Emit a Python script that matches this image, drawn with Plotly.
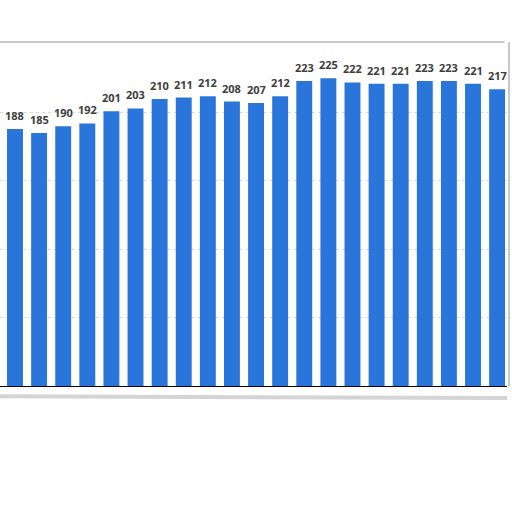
import plotly.graph_objects as go

# values, left to right
positions = list(range(21))
values = [188, 185, 190, 192, 201, 203, 210, 211, 212, 208, 207,
          212, 223, 225, 222, 221, 221, 223, 223, 221, 217]
grid_ticks = [0, 50, 100, 150, 200]

fig = go.Figure(go.Bar(
    x=positions,
    y=values,
    width=0.66,
    marker_color='#2a75d9',
    marker_line_width=0,
    hoverinfo='skip',
))

# value labels sit a bit higher above the bars than plotly's own outside text
for p, v in zip(positions, values):
    fig.add_annotation(x=p, y=v, text=str(v), showarrow=False,
                       yanchor='bottom', yshift=4,
                       font=dict(family='Open Sans', size=11, color='#3d3d3d', weight='bold'))

fig.update_layout(
    width=512, height=512,
    margin=dict(l=0, r=5, t=42, b=126),
    paper_bgcolor='white',
    plot_bgcolor='white',
    showlegend=False,
    xaxis=dict(range=[-0.622, 20.41], showticklabels=False, showgrid=False,
               zeroline=False, showline=True, linecolor='black', linewidth=1.2,
               ticks=''),
    yaxis=dict(range=[0, 251.6], tickvals=grid_ticks, showticklabels=False,
               showgrid=True, gridcolor='#dadada', griddash='dot', gridwidth=1,
               zeroline=False),
)

# frame of the cropped card: top edge, right edge and the shadow under it
fig.add_shape(type='line', xref='paper', yref='paper', x0=0, x1=0.995, y0=1.0, y1=1.0,
              line=dict(color='#c8c8c8', width=2))
fig.add_shape(type='line', xref='paper', yref='paper', x0=1.004, x1=1.004, y0=0.0, y1=1.0,
              line=dict(color='#c8c8c8', width=2))
fig.add_shape(type='line', xref='paper', yref='paper', x0=0, x1=1.0, y0=-0.03, y1=-0.035,
              line=dict(color='#d4d4d4', width=4))

fig.write_html("out.html", config={'displayModeBar': False},
               post_script="document.body.style.margin='0';")
